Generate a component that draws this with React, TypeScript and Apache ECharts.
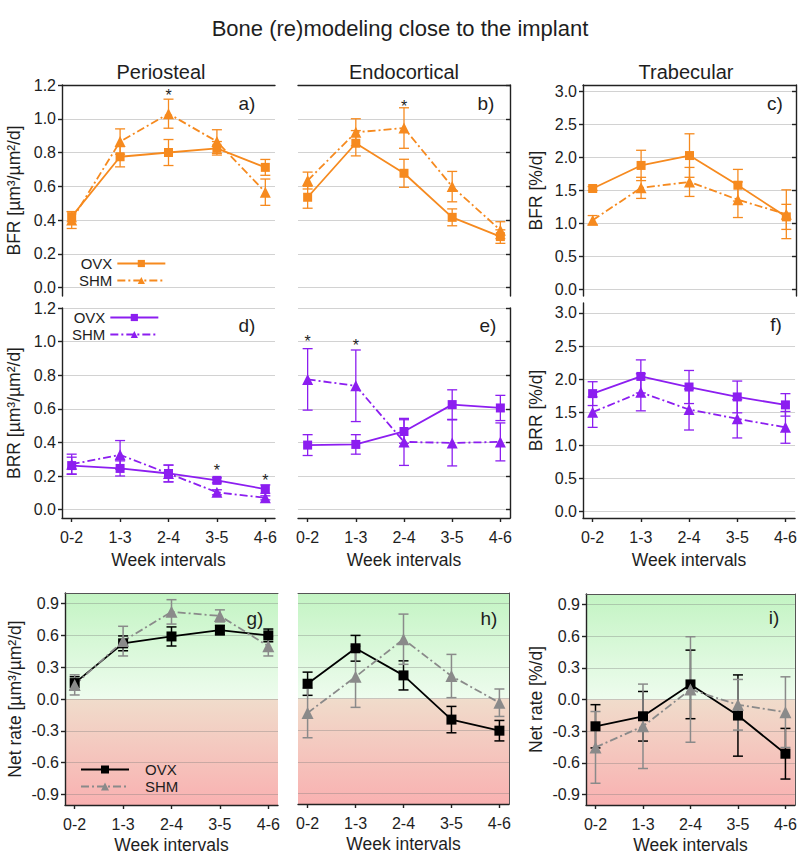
import React, { useEffect, useRef } from 'react';
import * as echarts from 'echarts';

// ---------- data ----------
const weeks = ['0-2', '1-3', '2-4', '3-5', '4-6'];
const weekPos = [0, 1, 2, 3, 4];
const ticksUm = [0, 0.2, 0.4, 0.6, 0.8, 1.0, 1.2];
const ticksPct = [0, 0.5, 1.0, 1.5, 2.0, 2.5, 3.0];
const ticksNet = [-0.9, -0.6, -0.3, 0, 0.3, 0.6, 0.9];

// a) Periosteal BFR
const bfrPeriOvx = [0.42, 0.775, 0.8, 0.825, 0.712];
const bfrPeriOvxErr = [0.03, 0.06, 0.077, 0.04, 0.047];
const bfrPeriShm = [0.4, 0.865, 1.03, 0.865, 0.565];
const bfrPeriShmErr = [0.05, 0.075, 0.086, 0.07, 0.078];
const bfrPeriStars = [[2, 1.135]];

// b) Endocortical BFR
const bfrEndoOvx = [0.535, 0.855, 0.677, 0.416, 0.302];
const bfrEndoOvxErr = [0.065, 0.075, 0.083, 0.05, 0.04];
const bfrEndoShm = [0.634, 0.92, 0.945, 0.598, 0.34];
const bfrEndoShmErr = [0.05, 0.08, 0.12, 0.09, 0.05];
const bfrEndoStars = [[2, 1.075]];

// c) Trabecular BFR
const bfrTrabOvx = [1.53, 1.88, 2.03, 1.58, 1.1];
const bfrTrabOvxErr = [0.03, 0.23, 0.33, 0.24, 0.19];
const bfrTrabShm = [1.05, 1.54, 1.63, 1.36, 1.14];
const bfrTrabShmErr = [0.07, 0.16, 0.22, 0.27, 0.37];

// d) Periosteal BRR
const brrPeriOvx = [0.262, 0.245, 0.215, 0.174, 0.122];
const brrPeriOvxErr = [0.05, 0.045, 0.05, 0.015, 0.025];
const brrPeriShm = [0.27, 0.326, 0.215, 0.103, 0.07];
const brrPeriShmErr = [0.06, 0.085, 0.05, 0.015, 0.012];
const brrPeriStars = [[3, 0.235], [4, 0.175]];

// e) Endocortical BRR
const brrEndoOvx = [0.384, 0.388, 0.465, 0.625, 0.605];
const brrEndoOvxErr = [0.062, 0.058, 0.07, 0.088, 0.075];
const brrEndoShm = [0.775, 0.737, 0.403, 0.397, 0.403];
const brrEndoShmErr = [0.183, 0.213, 0.14, 0.137, 0.113];
const brrEndoStars = [[0, 0.998], [1, 0.978]];

// f) Trabecular BRR
const brrTrabOvx = [1.78, 2.04, 1.88, 1.73, 1.61];
const brrTrabOvxErr = [0.18, 0.25, 0.25, 0.24, 0.17];
const brrTrabShm = [1.5, 1.8, 1.54, 1.4, 1.27];
const brrTrabShmErr = [0.23, 0.28, 0.31, 0.29, 0.24];

// g) Periosteal net rate
const netPeriOvx = [0.15, 0.525, 0.59, 0.65, 0.6];
const netPeriOvxErr = [0.06, 0.07, 0.09, 0.045, 0.06];
const netPeriShm = [0.133, 0.546, 0.822, 0.784, 0.498];
const netPeriShmErr = [0.095, 0.14, 0.115, 0.057, 0.092];

// h) Endocortical net rate
const netEndoOvx = [0.14, 0.476, 0.219, -0.2, -0.305];
const netEndoOvxErr = [0.11, 0.122, 0.138, 0.125, 0.097];
const netEndoShm = [-0.137, 0.206, 0.562, 0.213, -0.04];
const netEndoShmErr = [0.235, 0.29, 0.238, 0.205, 0.13];

// i) Trabecular net rate
const netTrabOvx = [-0.254, -0.159, 0.143, -0.152, -0.514];
const netTrabOvxErr = [0.205, 0.235, 0.325, 0.385, 0.24];
const netTrabShm = [-0.454, -0.254, 0.095, -0.05, -0.12];
const netTrabShmErr = [0.34, 0.4, 0.5, 0.24, 0.335];

// ---------- styles / layout ----------
const FONT = "'Liberation Sans', Arial, Helvetica, sans-serif";
const TXT = '#1e1e1e';
const AX = '#222222';
const GRIDC = '#d2d2d2';
const ORANGE = '#f68a1f';
const PURPLE = '#8c1ef0';
const BLACK = '#000000';
const GREY = '#8a8a8a';
const DASHDOT = [8, 3, 2, 3];
const TICK_FS = 16;
const NAME_FS = 17.5;

type Panel = {
  key: string;
  left: number; top: number; width: number; height: number;
  yMin: number; yMax: number; ticks: number[];
  ovxColor: string; shmColor: string;
  ovx: number[]; ovxErr: number[]; shm: number[]; shmErr: number[];
  stars: number[][];
  yLabels: boolean; yName: string; yGap: number;
  xLabels: boolean;
  topBorder: boolean; rightBorder: boolean; bg: boolean;
  labelPos: [number, number];
  msize: number;
};

const UM = 'µm³/µm²/d';

const panels: Panel[] = [
  { key: 'a', left: 62, top: 85, width: 213, height: 211, yMin: -0.05, yMax: 1.2, ticks: ticksUm,
    ovxColor: ORANGE, shmColor: ORANGE, ovx: bfrPeriOvx, ovxErr: bfrPeriOvxErr, shm: bfrPeriShm, shmErr: bfrPeriShmErr,
    stars: bfrPeriStars, yLabels: true, yName: `BFR [${UM}]`, yGap: 39, xLabels: false, topBorder: true, rightBorder: false, bg: false,
    labelPos: [247, 103], msize: 9 },
  { key: 'b', left: 298, top: 85, width: 212, height: 211, yMin: -0.05, yMax: 1.2, ticks: ticksUm,
    ovxColor: ORANGE, shmColor: ORANGE, ovx: bfrEndoOvx, ovxErr: bfrEndoOvxErr, shm: bfrEndoShm, shmErr: bfrEndoShmErr,
    stars: bfrEndoStars, yLabels: false, yName: '', yGap: 0, xLabels: false, topBorder: true, rightBorder: true, bg: false,
    labelPos: [486, 103], msize: 9 },
  { key: 'c', left: 583, top: 85, width: 213, height: 211, yMin: -0.1, yMax: 3.1, ticks: ticksPct,
    ovxColor: ORANGE, shmColor: ORANGE, ovx: bfrTrabOvx, ovxErr: bfrTrabOvxErr, shm: bfrTrabShm, shmErr: bfrTrabShmErr,
    stars: [], yLabels: true, yName: 'BFR [%/d]', yGap: 38, xLabels: false, topBorder: true, rightBorder: true, bg: false,
    labelPos: [775, 103], msize: 9 },
  { key: 'd', left: 62, top: 308, width: 213, height: 210, yMin: -0.05, yMax: 1.2, ticks: ticksUm,
    ovxColor: PURPLE, shmColor: PURPLE, ovx: brrPeriOvx, ovxErr: brrPeriOvxErr, shm: brrPeriShm, shmErr: brrPeriShmErr,
    stars: brrPeriStars, yLabels: true, yName: `BRR [${UM}]`, yGap: 39, xLabels: true, topBorder: false, rightBorder: false, bg: false,
    labelPos: [247, 325], msize: 9 },
  { key: 'e', left: 298, top: 308, width: 212, height: 210, yMin: -0.05, yMax: 1.2, ticks: ticksUm,
    ovxColor: PURPLE, shmColor: PURPLE, ovx: brrEndoOvx, ovxErr: brrEndoOvxErr, shm: brrEndoShm, shmErr: brrEndoShmErr,
    stars: brrEndoStars, yLabels: false, yName: '', yGap: 0, xLabels: true, topBorder: false, rightBorder: true, bg: false,
    labelPos: [488, 325], msize: 9 },
  { key: 'f', left: 583, top: 303, width: 213, height: 215, yMin: -0.1, yMax: 3.15, ticks: ticksPct,
    ovxColor: PURPLE, shmColor: PURPLE, ovx: brrTrabOvx, ovxErr: brrTrabOvxErr, shm: brrTrabShm, shmErr: brrTrabShmErr,
    stars: [], yLabels: true, yName: 'BRR [%/d]', yGap: 38, xLabels: true, topBorder: false, rightBorder: false, bg: false,
    labelPos: [776, 324], msize: 9 },
  { key: 'g', left: 65, top: 593, width: 213, height: 212, yMin: -1.0, yMax: 1.0, ticks: ticksNet,
    ovxColor: BLACK, shmColor: GREY, ovx: netPeriOvx, ovxErr: netPeriOvxErr, shm: netPeriShm, shmErr: netPeriShmErr,
    stars: [], yLabels: true, yName: `Net rate [${UM}]`, yGap: 41, xLabels: true, topBorder: true, rightBorder: false, bg: true,
    labelPos: [255, 618], msize: 10 },
  { key: 'h', left: 298, top: 593, width: 211, height: 211, yMin: -1.0, yMax: 1.0, ticks: ticksNet,
    ovxColor: BLACK, shmColor: GREY, ovx: netEndoOvx, ovxErr: netEndoOvxErr, shm: netEndoShm, shmErr: netEndoShmErr,
    stars: [], yLabels: false, yName: '', yGap: 0, xLabels: true, topBorder: true, rightBorder: true, bg: true,
    labelPos: [489, 618], msize: 10 },
  { key: 'i', left: 586, top: 594, width: 212, height: 212, yMin: -1.0, yMax: 1.0, ticks: ticksNet,
    ovxColor: BLACK, shmColor: GREY, ovx: netTrabOvx, ovxErr: netTrabOvxErr, shm: netTrabShm, shmErr: netTrabShmErr,
    stars: [], yLabels: true, yName: 'Net rate [%/d]', yGap: 41, xLabels: true, topBorder: true, rightBorder: true, bg: true,
    labelPos: [774, 617], msize: 10 },
];

const errRender = (color: string, width: number) => (params: any, api: any) => {
  const x = api.value(0);
  const lo = api.coord([x, api.value(1)]);
  const hi = api.coord([x, api.value(2)]);
  const hw = 5;
  const style = { stroke: color, lineWidth: width };
  return {
    type: 'group',
    children: [
      { type: 'line', shape: { x1: lo[0], y1: lo[1], x2: hi[0], y2: hi[1] }, style },
      { type: 'line', shape: { x1: lo[0] - hw, y1: lo[1], x2: lo[0] + hw, y2: lo[1] }, style },
      { type: 'line', shape: { x1: hi[0] - hw, y1: hi[1], x2: hi[0] + hw, y2: hi[1] }, style },
    ],
  };
};

const starRender = (params: any, api: any) => {
  const p = api.coord([api.value(0), api.value(1)]);
  return {
    type: 'text', x: p[0], y: p[1],
    style: { text: '*', fontSize: 16, fill: TXT, align: 'center', verticalAlign: 'middle', fontFamily: FONT },
  };
};

function buildOption() {
  const grid: any[] = [];
  const xAxis: any[] = [];
  const yAxis: any[] = [];
  const series: any[] = [];
  const graphic: any[] = [];
  const lineAx = { color: AX, width: 1.4 };

  panels.forEach((p) => {
    const gi = grid.length;
    grid.push({ left: p.left, top: p.top, width: p.width, height: p.height });
    const xi = xAxis.length;
    xAxis.push({
      type: 'value', gridIndex: gi, min: -0.2, max: 4.2, position: 'bottom', z: 1.5,
      axisLine: { show: p.xLabels, onZero: false, lineStyle: lineAx },
      axisTick: { show: p.xLabels, customValues: weekPos, length: 4, lineStyle: lineAx },
      axisLabel: {
        show: p.xLabels, customValues: weekPos, formatter: (v: number) => weeks[Math.round(v)],
        margin: 11, fontSize: TICK_FS, color: TXT, fontFamily: FONT,
      },
      splitLine: { show: false },
      name: p.xLabels ? 'Week intervals' : '', nameLocation: 'middle', nameGap: p.bg ? 31 : 33,
      nameTextStyle: { fontSize: NAME_FS, color: TXT, fontFamily: FONT },
    });
    if (p.topBorder) {
      xAxis.push({
        type: 'value', gridIndex: gi, min: -0.2, max: 4.2, position: 'top', z: 1.5,
        axisLine: { show: true, onZero: false, lineStyle: { color: p.bg ? '#555' : AX, width: p.bg ? 1 : 1.4 } },
        axisTick: { show: false }, axisLabel: { show: false }, splitLine: { show: false },
      });
    }
    const yi = yAxis.length;
    yAxis.push({
      type: 'value', gridIndex: gi, min: p.yMin, max: p.yMax, position: 'left', z: 1.5,
      axisLine: { show: p.yLabels, onZero: false, lineStyle: lineAx },
      axisTick: { show: p.yLabels, customValues: p.ticks, length: 4, lineStyle: lineAx },
      axisLabel: {
        show: p.yLabels, customValues: p.ticks, formatter: (v: number) => v.toFixed(1),
        margin: 6, fontSize: TICK_FS, color: TXT, fontFamily: FONT,
      },
      splitLine: { show: true, lineStyle: { color: p.bg ? 'rgba(120,120,120,0.35)' : GRIDC, width: 1 } },
      name: p.yName, nameLocation: 'middle', nameRotate: 90, nameGap: p.yGap,
      nameTextStyle: { fontSize: NAME_FS, color: TXT, fontFamily: FONT },
    });
    if (p.rightBorder) {
      yAxis.push({
        type: 'value', gridIndex: gi, min: p.yMin, max: p.yMax, position: 'right', z: 1.5,
        axisLine: { show: true, onZero: false, lineStyle: { color: p.bg ? '#555' : AX, width: p.bg ? 1 : 1.4 } },
        axisTick: { show: !p.bg, inside: true, customValues: p.ticks, length: 4, lineStyle: lineAx },
        axisLabel: { show: false }, splitLine: { show: false },
      });
    }

    if (p.bg) {
      series.push({
        type: 'line', name: 'bg ' + p.key, xAxisIndex: xi, yAxisIndex: yi, data: [], z: 1, silent: true,
        markArea: {
          silent: true,
          data: [
            [
              {
                yAxis: 0,
                itemStyle: {
                  color: new echarts.graphic.LinearGradient(0, 0, 0, 1, [
                    { offset: 0, color: '#c3f4c3' },
                    { offset: 1, color: '#eefcee' },
                  ]),
                },
              },
              { yAxis: p.yMax },
            ],
            [
              {
                yAxis: p.yMin,
                itemStyle: {
                  color: new echarts.graphic.LinearGradient(0, 0, 0, 1, [
                    { offset: 0, color: '#f0dccb' },
                    { offset: 1, color: '#f9b1b1' },
                  ]),
                },
              },
              { yAxis: 0 },
            ],
          ],
        },
      });
    }

    const addGroup = (name: string, vals: number[], errs: number[], color: string, symbol: string, dash: any, size: number) => {
      series.push({
        type: 'custom', name: name + ' err', xAxisIndex: xi, yAxisIndex: yi, silent: true, z: 3,
        data: vals.map((v, i) => [weekPos[i], v - errs[i], v + errs[i]]),
        encode: { x: 0, y: [1, 2] },
        renderItem: errRender(color, p.bg ? 1.5 : 1.3),
      });
      series.push({
        type: 'line', name, xAxisIndex: xi, yAxisIndex: yi, z: 4, silent: true,
        data: vals.map((v, i) => [weekPos[i], v]),
        symbol, symbolSize: size, showSymbol: true,
        lineStyle: { color, width: 1.8, type: dash },
        itemStyle: { color },
      });
    };
    addGroup('OVX ' + p.key, p.ovx, p.ovxErr, p.ovxColor, 'rect', 'solid', p.msize);
    addGroup('SHM ' + p.key, p.shm, p.shmErr, p.shmColor, 'triangle', DASHDOT, p.msize + 2);

    if (p.stars.length) {
      series.push({
        type: 'custom', name: 'stars ' + p.key, xAxisIndex: xi, yAxisIndex: yi, z: 5, silent: true,
        data: p.stars, encode: { x: 0, y: 1 }, renderItem: starRender,
      });
    }

    graphic.push({
      type: 'text', x: p.labelPos[0], y: p.labelPos[1], z: 10,
      style: { text: p.key + ')', fontSize: 19, fill: TXT, align: 'center', verticalAlign: 'middle', fontFamily: FONT },
    });
  });

  graphic.push({
    type: 'text', x: 400, y: 28, z: 10,
    style: { text: 'Bone (re)modeling close to the implant', fontSize: 22, fill: TXT, align: 'center', verticalAlign: 'middle', fontFamily: FONT },
  });
  const colTitles = [['Periosteal', 161], ['Endocortical', 404], ['Trabecular', 686]];
  colTitles.forEach(([t, x]) => {
    graphic.push({
      type: 'text', x: x as number, y: 72, z: 10,
      style: { text: t as string, fontSize: 20, fill: TXT, align: 'center', verticalAlign: 'middle', fontFamily: FONT },
    });
  });

  const legendBase = {
    orient: 'vertical', itemWidth: 48, itemHeight: 9, itemGap: 2, selectedMode: false,
    formatter: (n: string) => n.split(' ')[0],
    textStyle: { fontSize: 15, color: TXT, fontFamily: FONT, width: 38 },
    padding: 0,
  };
  const legend = [
    { ...legendBase, left: 79, top: 256, align: 'right', data: ['OVX a', 'SHM a'] },
    { ...legendBase, left: 72, top: 310, align: 'right', data: ['OVX d', 'SHM d'] },
    {
      ...legendBase, left: 80, top: 762, align: 'left', itemHeight: 10, data: ['OVX g', 'SHM g'],
      textStyle: { ...legendBase.textStyle, padding: [0, 0, 0, 11] },
    },
  ];

  return {
    animation: false,
    backgroundColor: '#ffffff',
    textStyle: { fontFamily: FONT },
    grid, xAxis, yAxis, series, graphic, legend,
  };
}

export default function App() {
  const ref = useRef<HTMLDivElement>(null);
  useEffect(() => {
    document.body.style.margin = '0';
    if (!ref.current) return;
    const chart = echarts.init(ref.current, undefined, { renderer: 'svg' });
    chart.setOption(buildOption() as any);
    return () => chart.dispose();
  }, []);
  return <div ref={ref} style={{ width: 800, height: 855 }} />;
}
